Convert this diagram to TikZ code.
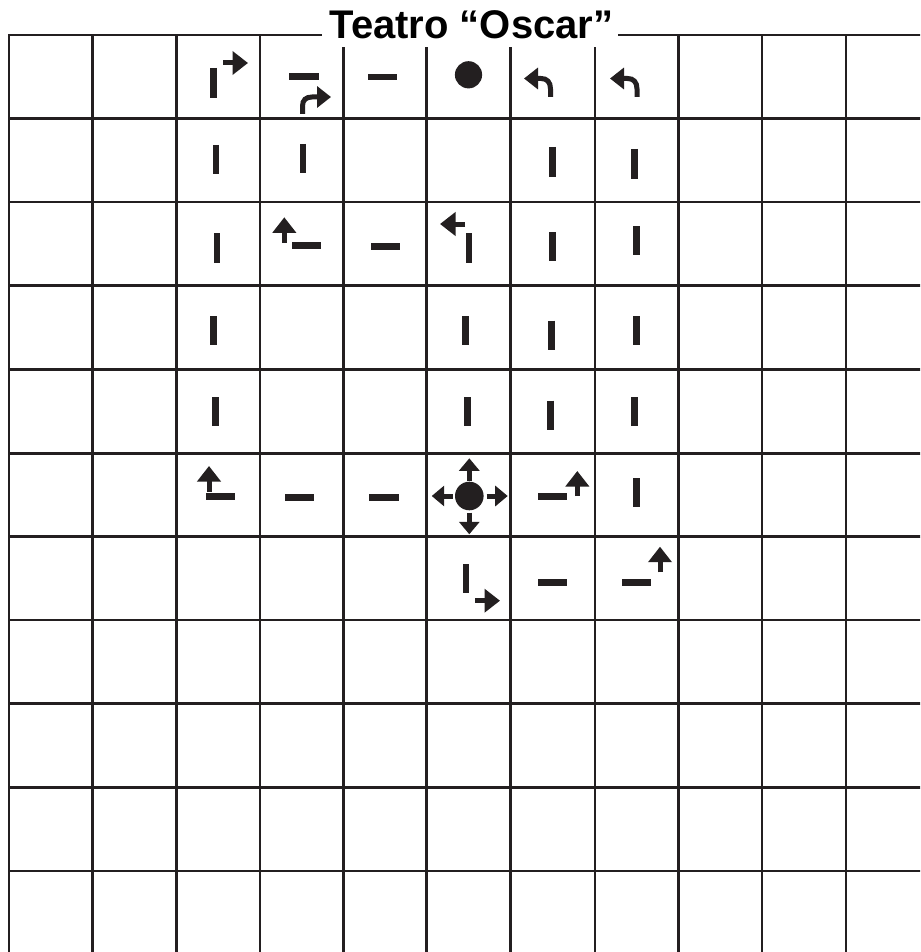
\documentclass[tikz,border=0pt]{standalone}
\usepackage{fontspec}
\setmainfont{Liberation Sans}
\usetikzlibrary{arrows.meta}
\definecolor{ink}{HTML}{231F20}
\begin{document}
\begin{tikzpicture}[x=1pt,y=-1pt,
  gridline/.style={draw=ink,line width=2.8pt,line cap=rect},
  barmark/.style={draw=ink,line width=6.5pt},
  arrowmark/.style={draw=ink,line width=5pt,-{Triangle[width=23pt,length=15.5pt]}},
  curvearrow/.style={draw=ink,line width=5pt,-{Triangle[width=21pt,length=14pt]}},
  smallarrow/.style={draw=ink,line width=5pt,-{Triangle[width=20pt,length=12.5pt]}},
  dotmark/.style={fill=ink}]
\useasboundingbox (0,0) rectangle (920,952);
\clip (0,0) rectangle (920,952);
\fill[white] (0,0) rectangle (920,952);
% grid
\foreach \x in {9,92.7,176.7,260,343.3,426.7,510.7,595,678.3,762,846}
  \draw[gridline] (\x,35) -- (\x,960);
\foreach \y in {35,118.5,202,285.7,369.3,453.3,536.7,620,703.3,787.5,871}
  \draw[gridline] (9,\y) -- (930,\y);
% title
\fill[white] (321.7,0) rectangle (618.3,47.5);
\node[anchor=base,inner sep=0pt,font=\fontsize{40}{44}\selectfont\bfseries] (title) at (471.5,38.5) {Teatro “Oscar”};
% row 0
\draw[barmark] (213.3,68) -- (213.3,98);
\draw[arrowmark] (223,63) -- (248,63);
\draw[barmark] (289,76.5) -- (319,76.5);
\draw[curvearrow] (302.5,114) -- (302.5,106) .. controls (302.5,100) and (306,97) .. (312,97) -- (331,97);
\draw[barmark] (368,77) -- (397,77);
\fill[dotmark] (468.5,74.8) circle (13.6);
\draw[curvearrow] (550.5,97) -- (550.5,89) .. controls (550.5,82) and (547,78.5) .. (541,78.5) -- (524,78.5);
\draw[curvearrow] (637,97) -- (637,89) .. controls (637,82) and (633.5,78.5) .. (627.5,78.5) -- (610,78.5);
% row 1
\draw[barmark] (216,145) -- (216,174);
\draw[barmark] (303,144) -- (303,173);
\draw[barmark] (552.7,147) -- (552.7,177);
\draw[barmark] (634.3,149) -- (634.3,179);
% row 2
\draw[barmark] (217,233.3) -- (217,262.7);
\draw[arrowmark] (284.3,242.7) -- (284.3,217.3);
\draw[barmark] (292,245.7) -- (321.3,245.7);
\draw[barmark] (371,246.7) -- (400,246.7);
\draw[arrowmark] (465,224) -- (440,224);
\draw[barmark] (469,233.3) -- (469,262.7);
\draw[barmark] (552.3,232.3) -- (552.3,261);
\draw[barmark] (636.7,226) -- (636.7,255);
% row 3
\draw[barmark] (213.3,316) -- (213.3,345);
\draw[barmark] (465.7,316) -- (465.7,345);
\draw[barmark] (551.7,320.7) -- (551.7,350);
\draw[barmark] (636.7,316) -- (636.7,345);
% row 4
\draw[barmark] (215.7,397.3) -- (215.7,426);
\draw[barmark] (467.7,397.3) -- (467.7,426);
\draw[barmark] (550.3,400.7) -- (550.3,430);
\draw[barmark] (634.3,397) -- (634.3,426);
% row 5
\draw[arrowmark] (209,491.7) -- (209,466);
\draw[barmark] (206,496.7) -- (235.3,496.7);
\draw[barmark] (285,497.3) -- (314,497.3);
\draw[barmark] (369.3,497.3) -- (399,497.3);
\fill[dotmark] (469.3,496) circle (14.3);
\draw[smallarrow] (469.3,480.7) -- (469.3,458.3);
\draw[smallarrow] (469.3,512.7) -- (469.3,534.3);
\draw[smallarrow] (452.7,496) -- (431.7,496);
\draw[smallarrow] (486.7,496) -- (507.7,496);
\draw[barmark] (538.3,496.7) -- (567.3,496.7);
\draw[arrowmark] (577.3,496) -- (577.3,471);
\draw[barmark] (636.7,478.3) -- (636.7,507.3);
% row 6
\draw[barmark] (466,564.3) -- (466,592.7);
\draw[arrowmark] (475,600.7) -- (500,600.7);
\draw[barmark] (538.3,582.3) -- (567.3,582.3);
\draw[barmark] (622.3,582.3) -- (651.3,582.3);
\draw[arrowmark] (660,572.3) -- (660,546.7);
\end{tikzpicture}
\end{document}
